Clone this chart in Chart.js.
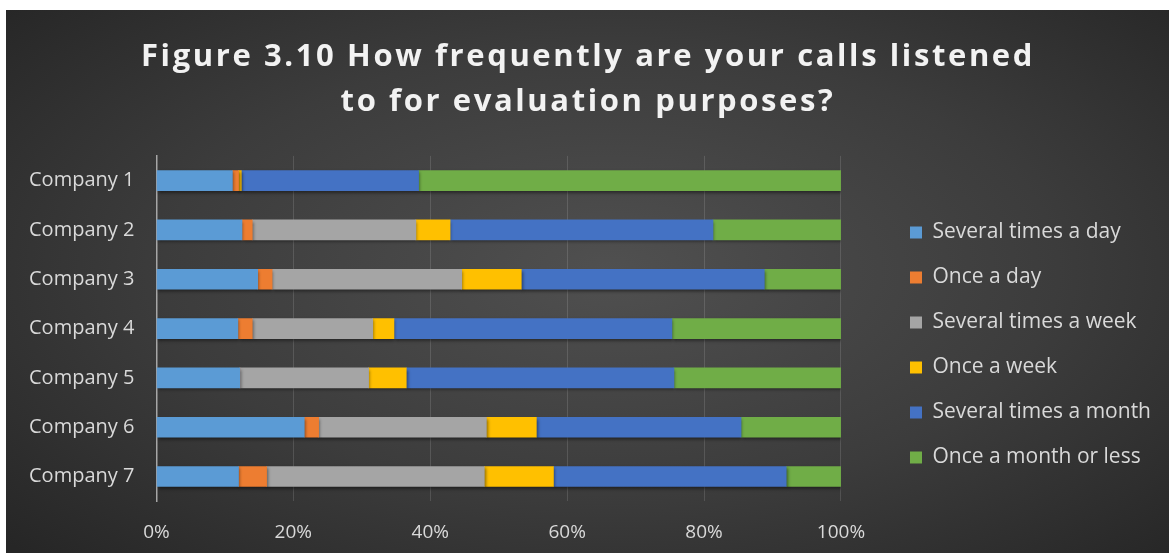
<html>
  <head>
    <meta charset="utf-8" />
    <title>Figure 3.10</title>
    <style>
      body { margin: 0; background: #ffffff; }
      #panel {
        position: absolute; left: 6px; top: 10px; width: 1163px; height: 543px;
        background: radial-gradient(ellipse 70% 75% at 52% 48%, #505050 0%, #3c3c3c 55%, #262626 100%);
      }
    </style>
  </head>
  <body>
    <div id="panel">
      <canvas id="chart"></canvas>
    </div>

    <script src="https://cdn.jsdelivr.net/npm/chart.js"></script>
    <script>
      // categories
      var companies = ["Company 1", "Company 2", "Company 3", "Company 4", "Company 5", "Company 6", "Company 7"];
      // series (percent of respondents)
      var severalDay   = [11.1, 12.5, 14.8, 11.9, 12.2, 21.6, 12.0];
      var onceDay      = [0.9, 1.5, 2.1, 2.1, 0, 2.1, 4.1];
      var severalWeek  = [0, 23.9, 27.7, 17.6, 18.8, 24.5, 31.8];
      var onceWeek     = [0.4, 5.0, 8.7, 3.1, 5.5, 7.3, 10.1];
      var severalMonth = [25.9, 38.4, 35.5, 40.6, 39.1, 29.9, 34.0];
      var onceMonth    = [61.7, 18.7, 11.2, 24.7, 24.4, 14.6, 8.0];
      var seriesNames = ["Several times a day", "Once a day", "Several times a week", "Once a week", "Several times a month", "Once a month or less"];
      var xTicks = [0, 20, 40, 60, 80, 100];

      var colors = ["#5b9bd5", "#ed7d31", "#a5a5a5", "#ffc000", "#4472c4", "#70ad47"];
      var series = [severalDay, onceDay, severalWeek, onceWeek, severalMonth, onceMonth];
      var textColor = "#d9d9d9";
      var fontFam = "'Open Sans', sans-serif";

      // soft shadow under the bars
      var barShadow = {
        id: "barShadow",
        beforeDatasetsDraw: function (chart) {
          var c = chart.ctx;
          c.save();
          c.shadowColor = "rgba(0,0,0,0.45)";
          c.shadowOffsetY = 2;
          c.shadowOffsetX = 1;
          c.shadowBlur = 3;
        },
        afterDatasetsDraw: function (chart) {
          chart.ctx.restore();
        },
      };

      // wider letter spacing for the title only (and nudge it right a bit)
      var titleSpacing = {
        id: "titleSpacing",
        afterLayout: function (chart) {
          var tb = chart.titleBlock;
          if (!tb || tb._spaced) return;
          var orig = tb.draw;
          tb.draw = function () {
            chart.ctx.save();
            chart.ctx.letterSpacing = "2.6px";
            chart.ctx.translate(4, 0);
            orig.apply(this, arguments);
            chart.ctx.restore();
          };
          tb._spaced = true;
        },
      };

      var ctx = document.getElementById("chart").getContext("2d");
      var chart = new Chart(ctx, {
        type: "bar",
        data: {
          labels: companies,
          datasets: series.map(function (d, i) {
            return {
              label: seriesNames[i],
              data: d,
              backgroundColor: colors[i],
              borderWidth: 0,
              barThickness: 20,
              yAxisID: "y",
            };
          }),
        },
        options: {
          indexAxis: "y",
          responsive: true,
          maintainAspectRatio: false,
          animation: false,
          layout: { padding: { left: 1, right: 8, top: 0, bottom: -11 } },
          plugins: {
            title: {
              display: true,
              text: ["Figure 3.10 How frequently are your calls listened", "to for evaluation purposes?"],
              color: "#f2f2f2",
              font: { family: fontFam, size: 31, weight: "bold", lineHeight: 1.45 },
              padding: { top: 25, bottom: 31 },
            },
            legend: {
              position: "right",
              maxWidth: 340,
              title: {
                display: true,
                text: " ",
                font: { size: 10, lineHeight: 1.2 },
                padding: { top: 52, bottom: 52 },
              },
              labels: {
                color: textColor,
                font: { family: fontFam, size: 21 },
                boxWidth: 12,
                boxHeight: 12,
                padding: 24,
              },
            },
            tooltip: { enabled: false },
          },
          scales: {
            x: {
              stacked: true,
              min: 0,
              max: 100,
              afterBuildTicks: function (s) {
                s.ticks = xTicks.map(function (v) { return { value: v }; });
              },
              ticks: {
                color: textColor,
                font: { family: fontFam, size: 19 },
                padding: 20,
                callback: function (v) { return v + "%"; },
              },
              grid: { color: "rgba(255,255,255,0.13)", drawTicks: false },
              border: { display: false },
            },
            y: {
              stacked: true,
              ticks: {
                color: textColor,
                font: { family: fontFam, size: 20 },
                padding: 22,
              },
              grid: { display: false, drawTicks: false },
              border: { color: "#a6a6a6", width: 1.5 },
            },
            gap: {
              type: "category",
              position: "right",
              labels: companies,
              ticks: { display: false },
              grid: { display: false, drawTicks: false },
              border: { display: false },
              afterFit: function (s) { s.width = 45; },
            },
          },
        },
        plugins: [barShadow, titleSpacing],
      });
    </script>
  </body>
</html>
